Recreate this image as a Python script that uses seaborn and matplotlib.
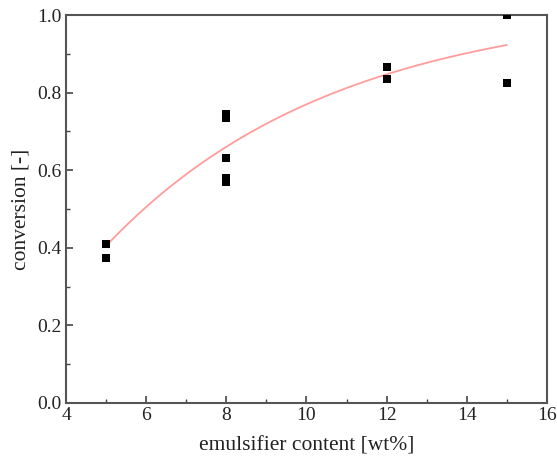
import numpy as np
import pandas as pd
import matplotlib
matplotlib.use("Agg")
import matplotlib.pyplot as plt
import seaborn as sns
from matplotlib.ticker import MultipleLocator

# data
emulsifier = [5, 5, 8, 8, 8, 8, 8, 12, 12, 15, 15]
conversion = [0.41, 0.375, 0.745, 0.735, 0.632, 0.58, 0.57, 0.865, 0.835, 1.0, 0.825]

# fitted curve parameters (y = A - B*exp(-k*x))
fit_A, fit_B, fit_k = 1.033, 1.499, 0.174
fit_range = [5, 15]

x_ticks = [4, 6, 8, 10, 12, 14, 16]
y_ticks = [0.0, 0.2, 0.4, 0.6, 0.8, 1.0]

sns.set_theme(style="white")
plt.rcParams['font.family'] = ['Liberation Serif', 'DejaVu Serif']

fig = plt.figure(figsize=(5.57, 4.70), dpi=100)
ax = fig.add_axes([0.1185, 0.1426, 0.8635, 0.8254])

xf = np.linspace(fit_range[0], fit_range[1], 200)
yf = fit_A - fit_B * np.exp(-fit_k * xf)
fit_df = pd.DataFrame({"x": xf, "y": yf})
sns.lineplot(data=fit_df, x="x", y="y", ax=ax, color="#ff9c9c", linewidth=1.3, zorder=2)

df = pd.DataFrame({"x": emulsifier, "y": conversion})
sns.scatterplot(data=df, x="x", y="y", ax=ax, marker="s", s=36, color="black",
                edgecolor="black", linewidth=0, zorder=3)

ax.set_xlim(4, 16)
ax.set_ylim(0, 1.0)
ax.set_xticks(x_ticks)
ax.set_yticks(y_ticks)
ax.set_xticklabels([str(t) for t in x_ticks])
ax.set_yticklabels([f"{t:.1f}" for t in y_ticks])
ax.xaxis.set_minor_locator(MultipleLocator(1))
ax.yaxis.set_minor_locator(MultipleLocator(0.1))
ax.tick_params(which="major", direction="in", length=5, width=1.2, colors="#444",
               labelcolor="#222", labelsize=14, bottom=True, left=True,
               top=False, right=False, pad=3)
ax.tick_params(which="minor", direction="in", length=3, width=1.0, colors="#444",
               bottom=True, left=True, top=False, right=False)
for s in ax.spines.values():
    s.set_color("#555")
    s.set_linewidth(1.5)
    s.set_visible(True)

ax.set_xlabel("emulsifier content [wt%]", fontsize=15.5, color="#222", labelpad=9)
ax.set_ylabel("conversion [-]", fontsize=15.5, color="#222", labelpad=5)

fig.savefig("out.png", dpi=100)
